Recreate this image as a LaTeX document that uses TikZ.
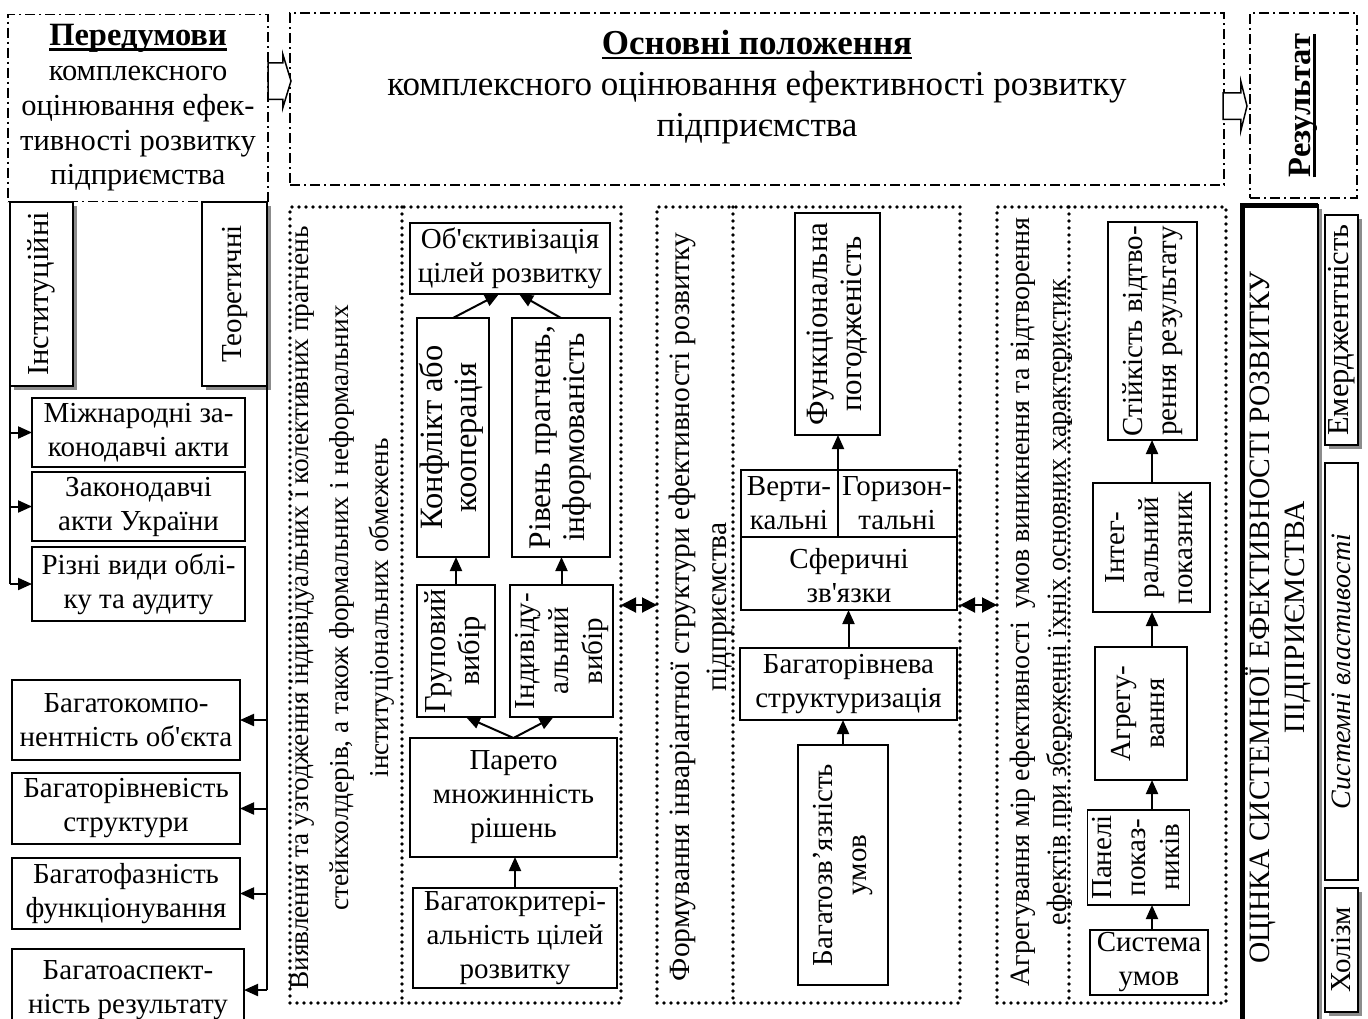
\documentclass[tikz,border=0pt]{standalone}
\usepackage{fontspec}
\setmainfont{Liberation Serif}[Ligatures=TeXOff]
\usetikzlibrary{arrows.meta,shapes.arrows,shadows,calc}
\newcommand\fz{\fontsize{29}{34}\selectfont}
\newsavebox\ulbox
\newcommand\thul[1]{\sbox\ulbox{#1}\rlap{\rule[-5pt]{\wd\ulbox}{2.5pt}}\usebox\ulbox}
\newcommand\rt[1]{\rotatebox{90}{\begin{tabular}{@{}c@{}}#1\end{tabular}}}
\newcommand\ro[1]{\rotatebox{90}{#1}}
\begin{document}
\begin{tikzpicture}[x=1pt,y=-1pt,
  every node/.style={font=\fz, inner sep=0pt, outer sep=0pt, align=center},
  bx/.style={draw, line width=1.5pt, fill=white},
  shd/.style={drop shadow={shadow xshift=4pt,shadow yshift=-4pt,fill=black!45,opacity=1}},
  dd/.style={draw, line width=1.4pt, dash pattern=on 10pt off 4pt on 2pt off 4pt},
  dots/.style={draw, line width=3.6pt, line cap=round, dash pattern=on 0pt off 7pt},
  ln/.style={line width=1.5pt},
  arr/.style={line width=2pt, -{Triangle[length=14pt,width=12pt]}},
  darr/.style={line width=2pt, {Triangle[length=15pt,width=15pt]}-{Triangle[length=15pt,width=15pt]}},
  blk/.style={draw, line width=1.5pt, single arrow, single arrow head indent=0pt, fill=white}]
\path[use as bounding box] (0,0) rectangle (1368,1018);

% ---------- top row
\node[dd, minimum width=260pt, minimum height=187pt, font=\fontsize{30.5}{34.8}\selectfont] (pre) at (138,108)
  {\thul{\textbf{\fontsize{32.5}{34.8}\selectfont Передумови}}\\комплексного\\оцінювання ефек-\\тивності розвитку\\підприємства};
\node[dd, minimum width=934pt, minimum height=172pt] (mainb) at (757,99) {};
\node[font=\fontsize{35}{41}\selectfont] (maint) at (757,87)
  {\thul{\textbf{Основні положення}}\\комплексного оцінювання ефективності розвитку\\підприємства};
\node[dd, minimum width=107pt, minimum height=185pt] (res) at (1303.5,105.5)
  {\ro{\thul{\textbf{\fontsize{32.5}{35}\selectfont Результат}}}};
\node[blk, minimum height=23pt, minimum width=52pt, single arrow head extend=8.5pt,
  single arrow tip angle=146, anchor=west] (ba1) at (268,81) {\rule{0pt}{35pt}};
\node[blk, minimum height=24pt, minimum width=47pt, single arrow head extend=11pt,
  single arrow tip angle=152, anchor=west] (ba2) at (1223,106) {\rule{0pt}{25pt}};

% ---------- left column
\node[bx, shd, minimum width=63pt, minimum height=184pt, font=\fontsize{30.5}{34}\selectfont] (inst) at (41.5,294) {\ro{Інституційні}};
\node[bx, shd, minimum width=65pt, minimum height=184pt] (teor) at (234.5,294) {\ro{Теоретичні}};
\node[bx, minimum width=213pt, minimum height=69pt] (m1) at (138.5,432.5) {Міжнародні за-\\конодавчі акти};
\node[bx, minimum width=213pt, minimum height=69pt] (m2) at (138.5,506.5) {Законодавчі\\акти України};
\node[bx, minimum width=213pt, minimum height=74pt] (m3) at (138.5,584) {Різні види облі-\\ку та аудиту};
\draw[ln] (inst.south west) -- (inst.south west |- m3.west);
\draw[arr] (inst.south west |- m1.west) -- (m1.west);
\draw[arr] (inst.south west |- m2.west) -- (m2.west);
\draw[arr] (inst.south west |- m3.west) -- (m3.west);

\node[bx, minimum width=228pt, minimum height=80pt] (b1) at (126,720) {Багатокомпо-\\нентність об'єкта};
\node[bx, minimum width=228pt, minimum height=71pt] (b2) at (126,808.5) {Багаторівневість\\структури};
\node[bx, minimum width=228pt, minimum height=71pt] (b3) at (126,893.5) {Багатофазність\\функціонування};
\node[bx, minimum width=232pt, minimum height=82pt] (b4) at (128,990) {Багатоаспект-\\ність результату};
\draw[ln] (teor.south east) -- (teor.south east |- b4.east);
\draw[arr] (teor.south east |- b1.east) -- (b1.east);
\draw[arr] (teor.south east |- b2.east) -- (b2.east);
\draw[arr] (teor.south east |- b3.east) -- (b3.east);
\draw[arr] (teor.south east |- b4.east) -- (b4.east);

% ---------- section 1
\node[dots, minimum width=331pt, minimum height=796pt] (s1) at (455.5,605) {};
\draw[dots] (402,207) -- (402,1003);
\node[font=\fontsize{27.3}{40}\selectfont] (s1t) at (340,608)
  {\rt{Виявлення та узгодження індивідуальних і колективних прагнень\\стейкхолдерів, а також формальних і неформальних\\інституціональних обмежень}};
\node[bx, minimum width=200pt, minimum height=71pt] (obj) at (510,258.5) {Об'єктивізація\\цілей розвитку};
\node[bx, minimum width=72pt, minimum height=239pt, font=\fontsize{32.5}{34}\selectfont] (konf) at (453,437.5) {\rt{Конфлікт або\\кооперація}};
\node[bx, minimum width=98pt, minimum height=239pt, font=\fontsize{31.5}{34}\selectfont] (riv) at (561,437.5) {\rt{Рівень прагнень,\\інформованість}};
\node[bx, minimum width=78pt, minimum height=132pt, font=\fontsize{30.5}{34}\selectfont] (grup) at (456,651) {\rt{Груповий\\вибір}};
\node[bx, minimum width=103pt, minimum height=132pt] (ind) at (561.5,651) {\rt{Індивіду-\\альний\\вибір}};
\node[bx, minimum width=207pt, minimum height=119pt] (par) at (513.5,797.5) {Парето\\множинність\\рішень};
\node[bx, minimum width=204pt, minimum height=100pt] (bkr) at (515,938) {Багатокритері-\\альність цілей\\розвитку};
\draw[arr] (konf.north) -- ([xshift=-11pt]obj.south);
\draw[arr] (riv.north) -- ([xshift=9pt]obj.south);
\draw[arr] (grup.north) -- (grup.north |- konf.south);
\draw[arr] (ind.north) -- (ind.north |- riv.south);
\draw[arr] (par.north) -- ([xshift=10pt]grup.south);
\draw[arr] (par.north) -- ([xshift=-8pt]ind.south);
\draw[arr] (bkr.north) -- (bkr.north |- par.south);

% ---------- section 2
\node[dots, minimum width=303pt, minimum height=796pt] (s2) at (808.5,605) {};
\draw[dots] (733,207) -- (733,1003);
\node[font=\fontsize{29.5}{37}\selectfont] (s2t) at (701,607)
  {\rt{Формування інваріантної структури ефективності розвитку\\підприємства}};
\node[bx, minimum width=85pt, minimum height=222pt, font=\fontsize{31}{34}\selectfont] (func) at (837.5,324) {\rt{Функціональна\\погодженість}};
\node[bx, minimum width=216pt, minimum height=140pt] (sfer) at (849,540) {};
\draw[ln] (sfer.west |- 0,537) -- (sfer.east |- 0,537);
\node (vert) at (789,503) {Верти-\\кальні};
\node (hor) at (897,503) {Горизон-\\тальні};
\node (sfert) at (849,576) {Сферичні\\зв'язки};
\coordinate (vh) at (838,537);
\draw[arr] (vh) -- (vh |- func.south);
\node[bx, minimum width=217pt, minimum height=72pt] (bst) at (848.5,684) {Багаторівнева\\структуризація};
\draw[arr] (bst.north) -- (bst.north |- sfer.south);
\node[bx, minimum width=90pt, minimum height=240pt] (bzv) at (843,865) {\rt{Багатозв’язність\\умов}};
\draw[arr] (bzv.north) -- (bzv.north |- bst.south);

% ---------- section 3
\node[dots, minimum width=229pt, minimum height=796pt] (s3) at (1111.5,605) {};
\draw[dots] (1069,207) -- (1069,1003);
\node[font=\fontsize{28}{37}\selectfont] (s3t) at (1041,602)
  {\rt{Агрегування мір ефективності \ умов виникнення та відтворення\\ефектів при збереженні їхніх основних характеристик}};
\node[bx, minimum width=89pt, minimum height=218pt] (st) at (1152.5,331) {\rt{Стійкість відтво-\\рення результату}};
\node[bx, minimum width=117pt, minimum height=129pt] (integ) at (1151.5,547.5) {\rt{Інтег-\\ральний\\показник}};
\node[bx, minimum width=92pt, minimum height=133pt] (agr) at (1141,713.5) {\rt{Агрегу-\\вання}};
\node[bx, minimum width=97pt, minimum height=95pt] (pan) at (1138.5,857.5) {\rt{Панелі\\показ-\\ників}};
\node[bx, minimum width=118pt, minimum height=65pt] (sys) at (1149,962.5) {Система\\умов};
\coordinate (ax) at (1152,0);
\draw[arr] (ax |- sys.north) -- (ax |- pan.south);
\draw[arr] (ax |- pan.north) -- (ax |- agr.south);
\draw[arr] (ax |- agr.north) -- (ax |- integ.south);
\draw[arr] (ax |- integ.north) -- (ax |- st.south);

\draw[darr] (s1.east) -- (s2.west);
\draw[darr] (s2.east) -- (s3.west);

% ---------- right column
\node[draw, fill=white, line width=2pt, shd, minimum width=76pt, minimum height=825pt,
  font=\fontsize{29.5}{35}\selectfont] (ocin) at (1280,617.5)
  {\rt{ОЦІНКА СИСТЕМНОЇ ЕФЕКТИВНОСТІ РОЗВИТКУ\\ПІДПРИЄМСТВА}};
\draw[line width=5pt] (ocin.south west) |- (ocin.north east);
\node[bx, shd, minimum width=33pt, minimum height=230pt, font=\fontsize{30.5}{34}\selectfont] (em) at (1341.5,330) {\ro{Емерджентність}};
\node[bx, minimum width=33pt, minimum height=417pt, font=\fontsize{28}{34}\selectfont] (sv) at (1341.5,671.5) {\ro{\textit{Системні властивості}}};
\node[bx, shd, minimum width=33pt, minimum height=124pt] (hol) at (1341.5,950) {\ro{Холізм}};
\end{tikzpicture}
\end{document}
